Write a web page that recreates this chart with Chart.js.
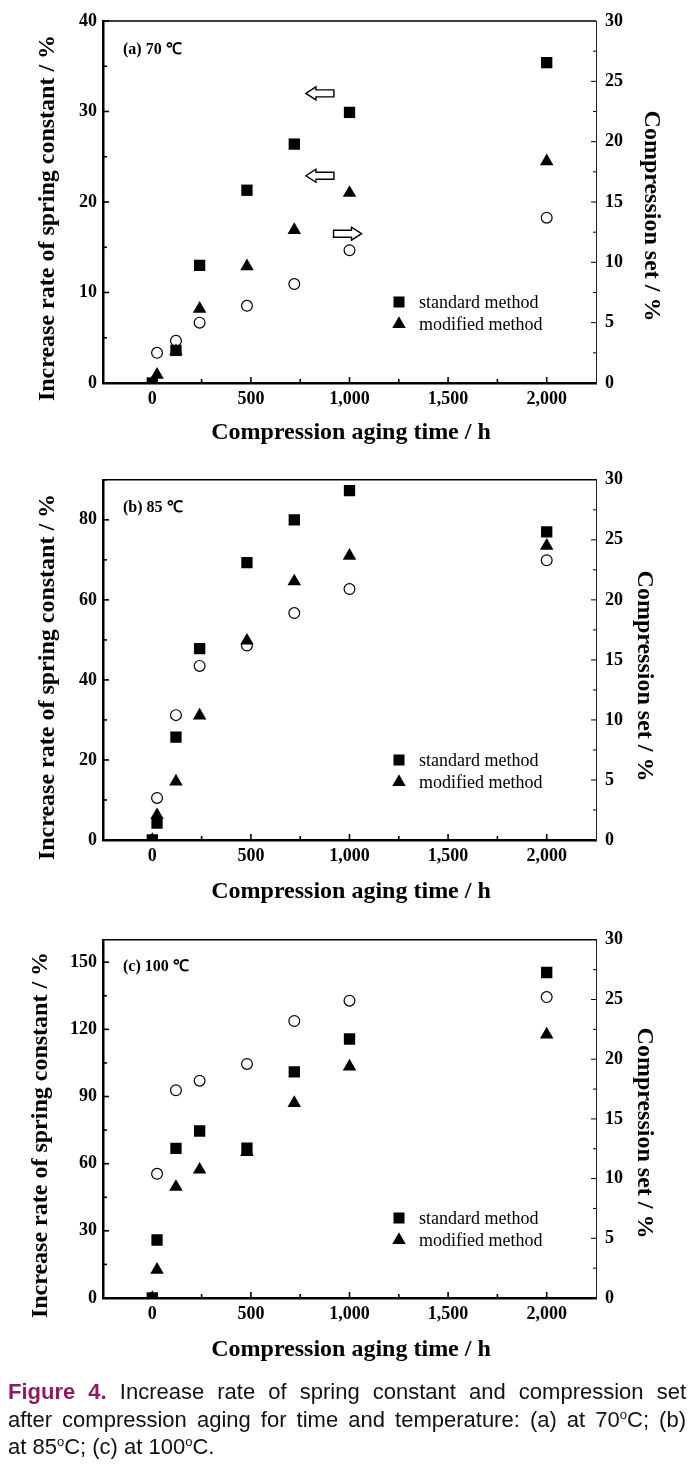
<!DOCTYPE html>
<html>
<head>
<meta charset="utf-8">
<script src="https://cdn.jsdelivr.net/npm/chart.js@4.4.1/dist/chart.umd.min.js"></script>
<style>
body{margin:0;background:#fff;width:694px;height:1471px;overflow:hidden;position:relative;}
canvas{position:absolute;left:0;}
#cap{position:absolute;left:8px;top:1378px;width:678px;font-family:'Liberation Sans',Arial,sans-serif;font-size:22px;line-height:27.5px;color:#111;}
#cap div{text-align:justify;text-align-last:justify;white-space:nowrap;}
#cap div.ult{text-align-last:left;}
#cap b{color:#8b1d60;}
#cap sup{font-size:13px;line-height:0;vertical-align:8px;}
</style>
</head>
<body>
<canvas id="g70" width="694" height="460" style="top:0px"></canvas>
<canvas id="g85" width="694" height="460" style="top:460px"></canvas>
<canvas id="g100" width="694" height="460" style="top:920px"></canvas>
<div id="cap">
<div><b>Figure 4.</b> Increase rate of spring constant and compression set</div>
<div>after compression aging for time and temperature: (a) at 70<sup>o</sup>C; (b)</div>
<div class="ult">at 85<sup>o</sup>C; (c) at 100<sup>o</sup>C.</div>
</div>
<script>
//-------------datos de las graficas-----------------//
const horas = [0, 24, 120, 240, 480, 720, 1000, 2000];

// (a) 70 C
const std70 = [0, null, 3.6, 13.0, 21.3, 26.4, 29.9, 35.4];
const mod70 = [0, 0.9, 3.5, 8.2, 12.9, 16.9, 21.0, 24.5];
const set70 = [null, 2.5, 3.5, 5.0, 6.4, 8.2, 11.0, 13.7];

// (b) 85 C
const std85 = [0, 4.2, 25.7, 47.8, 69.3, 80.0, 87.3, 77.0];
const mod85 = [0, 6.2, 14.6, 31.1, 49.8, 64.6, 71.0, 73.5];
const set85 = [null, 3.5, 10.4, 14.5, 16.2, 18.9, 20.9, 23.3];

// (c) 100 C
const std100 = [0, 25.9, 66.8, 74.6, 66.9, 101.0, 115.7, 145.4];
const mod100 = [0, 12.6, 49.6, 57.3, 65.2, 87.1, 103.4, 117.7];
const set100 = [null, 10.4, 17.4, 18.2, 19.6, 23.2, 24.9, 25.2];

const ticksX = [0, 500, 1000, 1500, 2000];
const ticks70 = [0, 10, 20, 30, 40];
const ticks85 = [0, 20, 40, 60, 80];
const ticks100 = [0, 30, 60, 90, 120, 150];
const ticksSet = [0, 5, 10, 15, 20, 25, 30];

// flechas de (a): posicion en unidades del eje izquierdo, dir -1 izq / 1 der
const flechas70 = [{x: 850, y: 32.0, dir: -1}, {x: 850, y: 22.9, dir: -1}, {x: 990, y: 16.5, dir: 1}];

const txtEjeY = 'Increase rate of spring constant / %';
const txtEjeY2 = 'Compression set / %';
const txtEjeX = 'Compression aging time / h';
const leyenda = ['standard method', 'modified method'];
//-----------------------------------------------//

const serif = "'Liberation Serif', 'Times New Roman', serif";

function puntos(arr){
	var lista = [];
	for (var i = 0; i < horas.length; i++) {
		if (arr[i] !== null) lista.push({x: horas[i], y: arr[i]});
	}
	return lista;
}

function linea(ctx, x1, y1, x2, y2){
	ctx.beginPath(); ctx.moveTo(x1, y1); ctx.lineTo(x2, y2); ctx.stroke();
}

function marcador(ctx, tipo, x, y){
	ctx.beginPath();
	if (tipo == 'rect') {
		const s = 7.8 * Math.SQRT1_2;
		ctx.rect(x - s, y - s, 2 * s, 2 * s);
	} else {
		const r = 7.8;
		ctx.moveTo(x, y - r);
		ctx.lineTo(x + r * Math.sin(2 * Math.PI / 3), y + r / 2);
		ctx.lineTo(x - r * Math.sin(2 * Math.PI / 3), y + r / 2);
		ctx.closePath();
	}
	ctx.fill();
}

const adornos = {
	id: 'adornos',
	afterDatasetsDraw(chart, args, o) {
		const ctx = chart.ctx;
		const a = chart.chartArea;
		const sx = chart.scales.x, sy = chart.scales.y, sy2 = chart.scales.y2;
		ctx.save();
		ctx.strokeStyle = '#000';
		ctx.fillStyle = '#000';

		// borde de arriba
		ctx.lineWidth = 1.5;
		linea(ctx, a.left, a.top, a.right, a.top);

		// marcas hacia adentro
		ctx.lineWidth = 1.6;
		for (var v = 250; v <= 2000; v += 250) {
			const px = sx.getPixelForValue(v);
			linea(ctx, px, a.bottom, px, a.bottom - (v % 500 == 0 ? 6 : 4));
		}
		for (var v = o.yMenor; v <= o.yMax; v += o.yMenor) {
			const py = sy.getPixelForValue(v);
			linea(ctx, a.left, py, a.left + (v % o.yPaso == 0 ? 6 : 4), py);
		}
		ctx.lineWidth = 1;
		for (var v = 2.5; v < 30; v += 2.5) {
			const py = sy2.getPixelForValue(v);
			linea(ctx, a.right, py, a.right - (v % 5 == 0 ? 5 : 3), py);
		}

		// titulos de los ejes
		ctx.font = 'bold 24px ' + serif;
		ctx.textAlign = 'center';
		ctx.textBaseline = 'middle';
		ctx.fillText(txtEjeX, o.tx[0], o.tx[1]);
		ctx.save();
		ctx.translate(o.ty[0], o.ty[1]);
		ctx.rotate(-Math.PI / 2);
		ctx.fillText(txtEjeY, 0, 0);
		ctx.restore();
		ctx.save();
		ctx.translate(o.ty2[0], o.ty2[1]);
		ctx.rotate(Math.PI / 2);
		ctx.fillText(txtEjeY2, 0, 0);
		ctx.restore();

		// etiqueta del panel
		ctx.textAlign = 'left';
		ctx.font = 'bold 16px ' + serif;
		ctx.fillText(o.etiqueta, 123, o.yEtiqueta);

		// leyenda
		ctx.font = '18px ' + serif;
		marcador(ctx, 'rect', 399, o.yLey);
		ctx.fillText(leyenda[0], 419, o.yLey + 1);
		marcador(ctx, 'triangle', 399, o.yLey + 22);
		ctx.fillText(leyenda[1], 419, o.yLey + 23);

		// flechas huecas
		ctx.lineWidth = 1.4;
		for (var k in o.flechas) {
			const f = o.flechas[k];
			const cx = sx.getPixelForValue(f.x), cy = sy.getPixelForValue(f.y);
			const d = f.dir;
			ctx.beginPath();
			ctx.moveTo(cx + d * 14, cy);
			ctx.lineTo(cx + d * 4, cy - 6.5);
			ctx.lineTo(cx + d * 4, cy - 3.5);
			ctx.lineTo(cx - d * 14, cy - 3.5);
			ctx.lineTo(cx - d * 14, cy + 3.5);
			ctx.lineTo(cx + d * 4, cy + 3.5);
			ctx.lineTo(cx + d * 4, cy + 6.5);
			ctx.closePath();
			ctx.fillStyle = '#fff';
			ctx.fill();
			ctx.stroke();
		}
		ctx.restore();
	}
};

function crearPanel(nombre, p){
	const ctx = document.getElementById(nombre).getContext('2d');
	const fuenteTicks = {family: serif, weight: 'bold', size: 18};
	return new Chart(ctx, {
		type: 'scatter',
		data: {
			datasets: [
				{
					label: leyenda[1], data: puntos(p.mod), yAxisID: 'y', order: 1,
					pointStyle: 'triangle', pointRadius: 7.8, pointHoverRadius: 7.8,
					backgroundColor: '#000', borderColor: '#000', borderWidth: 0
				},
				{
					label: leyenda[0], data: puntos(p.std), yAxisID: 'y', order: 2,
					pointStyle: 'rect', pointRadius: 8, pointHoverRadius: 8,
					backgroundColor: '#000', borderColor: '#000', borderWidth: 0
				},
				{
					label: 'compression set', data: puntos(p.set), yAxisID: 'y2', order: 3,
					pointStyle: 'circle', pointRadius: 5.4, pointHoverRadius: 5.4,
					backgroundColor: '#fff', borderColor: '#000', borderWidth: 1.2
				}
			]
		},
		options: {
			responsive: false,
			animation: false,
			events: [],
			layout: {padding: {top: p.arriba, left: 0, right: 0, bottom: 0}},
			plugins: {
				legend: {display: false},
				tooltip: {enabled: false},
				adornos: {
					yMax: p.yMax, yPaso: p.yPaso, yMenor: p.yMenor,
					tx: p.tx, ty: p.ty, ty2: p.ty2,
					etiqueta: p.etiqueta, yEtiqueta: p.yEtiqueta, yLey: p.yLey,
					flechas: p.flechas
				}
			},
			scales: {
				x: {
					type: 'linear', position: 'bottom', min: -250, max: 2250,
					afterBuildTicks: function(s){ s.ticks = ticksX.map(function(v){ return {value: v}; }); },
					afterFit: function(s){ s.height = p.altoX; },
					grid: {display: false, drawTicks: false},
					border: {display: true, width: 2.5, color: '#000'},
					ticks: {
						font: fuenteTicks, color: '#000', padding: 6, maxRotation: 0, autoSkip: false,
						callback: function(v){ return v.toLocaleString('en-US'); }
					}
				},
				y: {
					type: 'linear', position: 'left', min: 0, max: p.yMax,
					afterBuildTicks: function(s){ s.ticks = p.ticks.map(function(v){ return {value: v}; }); },
					afterFit: function(s){ s.width = 103; },
					grid: {display: false, drawTicks: false},
					border: {display: true, width: 2.5, color: '#000'},
					ticks: {font: fuenteTicks, color: '#000', padding: 6}
				},
				y2: {
					type: 'linear', position: 'right', min: 0, max: 30,
					afterBuildTicks: function(s){ s.ticks = ticksSet.map(function(v){ return {value: v}; }); },
					afterFit: function(s){ s.width = 98; },
					grid: {display: false, drawTicks: false},
					border: {display: true, width: 1, color: '#222', dash: p.rayas},
					ticks: {font: fuenteTicks, color: '#000', padding: 9}
				}
			}
		},
		plugins: [adornos]
	});
}

crearPanel('g70', {
	std: std70, mod: mod70, set: set70, ticks: ticks70,
	yMax: 40, yPaso: 10, yMenor: 5, arriba: 21, altoX: 77, rayas: [1.5, 1.5],
	tx: [351, 433], ty: [48, 218], ty2: [651, 216],
	etiqueta: '(a) 70 \u2103', yEtiqueta: 50, yLey: 302, flechas: flechas70
});

crearPanel('g85', {
	std: std85, mod: mod85, set: set85, ticks: ticks85,
	yMax: 90, yPaso: 20, yMenor: 10, arriba: 19, altoX: 80, rayas: [4, 3],
	tx: [351, 432], ty: [48, 217], ty2: [644, 216],
	etiqueta: '(b) 85 \u2103', yEtiqueta: 48, yLey: 300, flechas: []
});

crearPanel('g100', {
	std: std100, mod: mod100, set: set100, ticks: ticks100,
	yMax: 160, yPaso: 30, yMenor: 15, arriba: 19, altoX: 82, rayas: [4, 3],
	tx: [351, 430], ty: [41, 215], ty2: [644, 213],
	etiqueta: '(c) 100 \u2103', yEtiqueta: 47, yLey: 298, flechas: []
});
</script>
</body>
</html>
